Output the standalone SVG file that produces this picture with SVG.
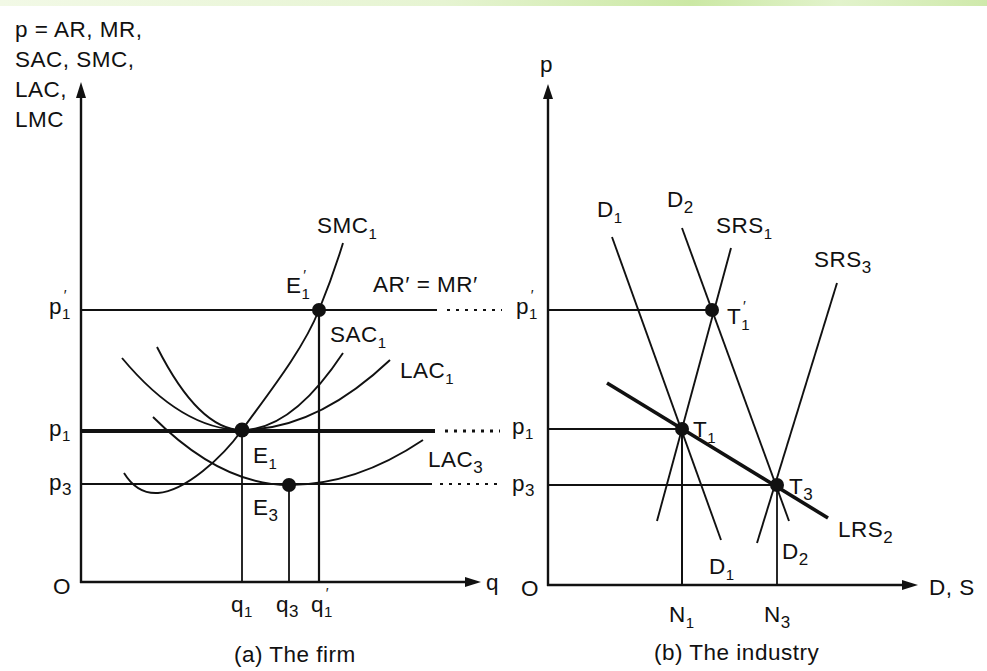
<svg xmlns="http://www.w3.org/2000/svg" width="987" height="671" viewBox="0 0 987 671">
<defs>
<linearGradient id="topbar" x1="0" y1="0" x2="1" y2="0">
<stop offset="0" stop-color="#f2f9e6"/>
<stop offset="0.45" stop-color="#e6f4d2"/>
<stop offset="0.7" stop-color="#cbe8a4"/>
<stop offset="0.85" stop-color="#e2f3cc"/>
<stop offset="1" stop-color="#cfe9ab"/>
</linearGradient>
<style>
text{font-family:"Liberation Sans",Arial,sans-serif;font-size:22.5px;fill:#111;letter-spacing:0.5px}
.sub{font-size:15px}
.ax{stroke:#111;stroke-width:2.4;fill:none}
.ln{stroke:#111;stroke-width:1.8;fill:none}
.th{stroke:#111;stroke-width:4;fill:none}
.dot{stroke:#111;stroke-width:2.2;fill:none;stroke-dasharray:3 6}
.cv{stroke:#111;stroke-width:1.9;fill:none}
.pt{fill:#111}
.ah{fill:#111}
</style>
</defs>
<rect width="987" height="671" fill="#fff"/>
<rect width="987" height="6" fill="url(#topbar)"/>

<!-- Panel (a): the firm -->
<g id="firm-axes">
<line class="ax" x1="81" y1="95" x2="81" y2="583"/>
<polygon class="ah" points="81,82 76,98 86,98"/>
<line class="ax" x1="80" y1="582" x2="468" y2="582"/>
<polygon class="ah" points="481,582 465,577 465,587"/>
<text x="15" y="37">p = AR, MR,</text>
<text x="15" y="67">SAC, SMC,</text>
<text x="15" y="97">LAC,</text>
<text x="15" y="127">LMC</text>
<text x="486" y="590">q</text>
<text x="53" y="594">O</text>
</g>

<g id="firm-price-lines">
<line class="ln" x1="81" y1="310" x2="437" y2="310" style="stroke-width:2.2"/>
<line class="dot" x1="447" y1="310" x2="502" y2="310"/>
<line class="th" x1="81" y1="431" x2="435" y2="431"/>
<line class="dot" x1="445" y1="431" x2="500" y2="431" style="stroke-width:3"/>
<line class="ln" x1="81" y1="484" x2="432" y2="484" style="stroke-width:2"/>
<line class="dot" x1="440" y1="484" x2="497" y2="484"/>
<text x="49" y="314">p<tspan class="sub" dy="5">1</tspan><tspan class="sub" dx="-7" dy="-19">′</tspan></text>
<text x="49" y="436">p<tspan class="sub" dy="5">1</tspan></text>
<text x="49" y="490">p<tspan class="sub" dy="5" style="font-size:17px">3</tspan></text>
</g>

<g id="firm-quantities">
<line class="ln" x1="242" y1="430" x2="242" y2="582"/>
<line class="ln" x1="289" y1="485" x2="289" y2="582"/>
<line class="ln" x1="319" y1="310" x2="319" y2="582" style="stroke-width:2.2"/>
<text x="231" y="612">q<tspan class="sub" dy="5">1</tspan></text>
<text x="276" y="612">q<tspan class="sub" dy="5" style="font-size:17px">3</tspan></text>
<text x="311" y="612">q<tspan class="sub" dy="5">1</tspan><tspan class="sub" dx="-7" dy="-19">′</tspan></text>
</g>

<g id="SMC1">
<path class="cv" d="M124,473 C132,486 142,494 158,493 C185,491 222,458 242,430 C268,394 303,350 319,310 C328,288 336,266 343,243"/>
<text x="317" y="233">SMC<tspan class="sub" dy="6">1</tspan></text>
</g>
<g id="SAC1">
<path class="cv" d="M157,347 Q199,430 242,430 Q292,430 343,353"/>
<text x="330" y="342">SAC<tspan class="sub" dy="6">1</tspan></text>
</g>
<g id="LAC1">
<path class="cv" d="M122,358 Q182,430 242,430 Q316,430 390,360"/>
<text x="400" y="378">LAC<tspan class="sub" dy="6">1</tspan></text>
</g>
<g id="LAC3">
<path class="cv" d="M153,417 Q221,485 289,485 Q356,485 423,440"/>
<text x="428" y="467">LAC<tspan class="sub" dy="6" style="font-size:17px">3</tspan></text>
</g>
<g id="AR-MR">
<text x="373" y="292">AR′ = MR′</text>
</g>

<g id="E1prime">
<circle class="pt" cx="319" cy="310" r="7"/>
<text x="286" y="293">E<tspan class="sub" dy="6">1</tspan><tspan class="sub" dx="-7" dy="-19">′</tspan></text>
</g>
<g id="E1">
<circle class="pt" cx="242" cy="430" r="7.5"/>
<text x="253" y="463">E<tspan class="sub" dy="6">1</tspan></text>
</g>
<g id="E3">
<circle class="pt" cx="289" cy="485" r="7"/>
<text x="253" y="515">E<tspan class="sub" dy="6" style="font-size:17px">3</tspan></text>
</g>
<text x="234" y="662">(a) The firm</text>

<!-- Panel (b): the industry -->
<g id="industry-axes">
<line class="ax" x1="548" y1="95" x2="548" y2="586"/>
<polygon class="ah" points="548,84 543,99 553,99"/>
<line class="ax" x1="547" y1="585" x2="905" y2="585"/>
<polygon class="ah" points="918,585 902,580 902,590"/>
<text x="540" y="72">p</text>
<text x="929" y="595">D, S</text>
<text x="521" y="596">O</text>
</g>

<g id="industry-price-lines">
<line class="ln" x1="548" y1="310" x2="712" y2="310" style="stroke-width:2.2"/>
<line class="ln" x1="548" y1="429" x2="682" y2="429"/>
<line class="ln" x1="548" y1="485" x2="777" y2="485"/>
<text x="516" y="314">p<tspan class="sub" dy="5">1</tspan><tspan class="sub" dx="-7" dy="-19">′</tspan></text>
<text x="512" y="434">p<tspan class="sub" dy="5">1</tspan></text>
<text x="512" y="491">p<tspan class="sub" dy="5" style="font-size:17px">3</tspan></text>
</g>

<g id="industry-quantities">
<line class="ln" x1="682" y1="429" x2="682" y2="585" style="stroke-width:2"/>
<line class="ln" x1="777" y1="485" x2="777" y2="585"/>
<text x="669" y="622">N<tspan class="sub" dy="6">1</tspan></text>
<text x="764" y="622">N<tspan class="sub" dy="6" style="font-size:17px">3</tspan></text>
</g>

<g id="D1">
<line class="cv" x1="612" y1="237" x2="721" y2="540"/>
<text x="597" y="217">D<tspan class="sub" dy="6">1</tspan></text>
<text x="709" y="574">D<tspan class="sub" dy="6">1</tspan></text>
</g>
<g id="D2">
<line class="cv" x1="682" y1="228" x2="789" y2="521"/>
<text x="667" y="207">D<tspan class="sub" dy="6" style="font-size:17px">2</tspan></text>
<text x="782" y="559">D<tspan class="sub" dy="6" style="font-size:17px">2</tspan></text>
</g>
<g id="SRS1">
<line class="cv" x1="731" y1="248" x2="657" y2="521"/>
<text x="716" y="233">SRS<tspan class="sub" dy="6">1</tspan></text>
</g>
<g id="SRS3">
<line class="cv" x1="837" y1="283" x2="757" y2="543"/>
<text x="814" y="267">SRS<tspan class="sub" dy="6" style="font-size:17px">3</tspan></text>
</g>
<g id="LRS2">
<line class="cv" x1="607" y1="383" x2="828" y2="518" style="stroke-width:3.6"/>
<text x="838" y="537">LRS<tspan class="sub" dy="6" style="font-size:17px">2</tspan></text>
</g>

<g id="T1prime">
<circle class="pt" cx="712" cy="310" r="7"/>
<text x="727" y="324">T<tspan class="sub" dy="6">1</tspan><tspan class="sub" dx="-7" dy="-19">′</tspan></text>
</g>
<g id="T1">
<circle class="pt" cx="682" cy="429" r="7"/>
<text x="693" y="437">T<tspan class="sub" dy="6">1</tspan></text>
</g>
<g id="T3">
<circle class="pt" cx="777" cy="485" r="7"/>
<text x="789" y="494">T<tspan class="sub" dy="6" style="font-size:17px">3</tspan></text>
</g>
<text x="654" y="660">(b) The industry</text>
</svg>
